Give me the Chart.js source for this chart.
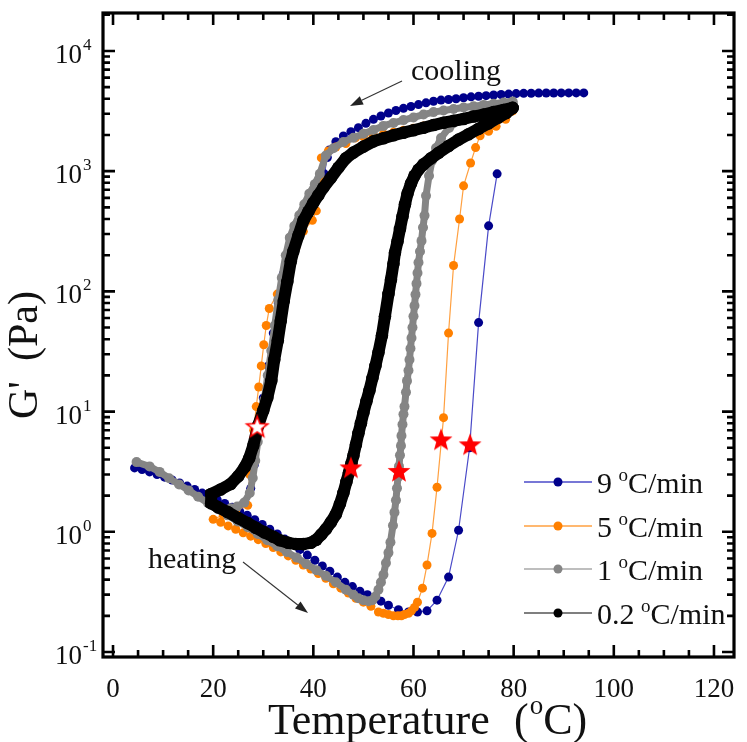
<!DOCTYPE html>
<html><head><meta charset="utf-8">
<script src="https://cdn.jsdelivr.net/npm/chart.js@4.4.0/dist/chart.umd.min.js"></script>
<style>html,body{margin:0;padding:0;background:#fff;} canvas{display:block;}</style>
</head><body>
<canvas id="c" width="747" height="742"></canvas>
<script>
// ---------------- data ----------------
const xTicks = [0, 20, 40, 60, 80, 100, 120];
const yTickExps = [-1, 0, 1, 2, 3, 4];
const legendRates = ['9', '5', '1', '0.2'];

// 9 °C/min
const navyCoolT = [94,92.5,91,89.5,88,86.5,85,83.5,82,80.5,79,77.5,76,74.5,73,71.5,70,68.5,67,65.5,64,62.5,61,59.5,58,56.5,55,53.5,52,50.5,49,47.5,46,44.5,43.2,42.8,42.2,41,39.5,38,36.5,35,34,33,32,31,30,29,28.2,27.5];
const navyCoolG = [4480,4480,4480,4480,4470,4470,4460,4450,4440,4420,4380,4340,4300,4250,4200,4150,4080,4000,3950,3900,3820,3700,3580,3450,3330,3200,3050,2880,2700,2500,2300,2130,1960,1760,1500,1300,950,720,580,450,330,210,140,80,45,24,13,7,3.6,2.3];
const navyHeatT = [4.3,5.8,7.3,8.8,10.3,11.8,13.3,14.8,16.3,17.8,19.3,20.8,22.3,23.8,25.3,26.8,28.3,29.8,31.3,32.8,34.3,35.8,37.3,38.8,40.3,41.8,43.3,44.8,46.3,47.8,49.3,50.8,52.3,53.5,55,57,59,60.8,62.7,64.7,67,69,71.2,73,75,76.7];
const navyHeatG = [3.4,3.3,3.15,3.0,2.85,2.7,2.55,2.4,2.25,2.1,1.97,1.85,1.72,1.6,1.48,1.37,1.26,1.15,1.05,0.96,0.87,0.79,0.71,0.64,0.58,0.52,0.47,0.42,0.38,0.35,0.32,0.30,0.28,0.265,0.245,0.225,0.215,0.215,0.22,0.27,0.42,1.03,5.0,55,351,950];

// 5 °C/min
const orangeCoolT = [79.8,78,76,74,72,70,68,66,64,62,60,58,56,54,52,50,48.4,46.5,44.5,43,41.6,41.4,40.9,40.6,39.8,38,36.5,35.2,34,32.8,31.2,30.6,30.1,29.6,29.1,28.6,28.1,27.7,27.3,26.9,24.5,22];
const orangeCoolG = [3170,3100,3020,2940,2850,2760,2670,2580,2480,2380,2280,2190,2110,2040,1990,1940,1890,1700,1590,1470,1290,880,600,468,390,316,230,170,125,95,72,52,36,24,16,11,7,4.8,3,1.66,1.5,1.38];
const orangeHeatT = [20,21.5,23,24.5,26,27.5,29,30.5,32,33.5,35,36.5,38,39.5,41,42.5,44,45.5,47,48.5,50,51.5,53,54,55,56,56.9,57.6,58.2,59,59.6,60.2,60.8,61.8,62.7,63.7,64.7,66,67,68,69.2,70,71.4,72.4,73.3,75,76.5,78.4,79.8];
const orangeHeatG = [1.27,1.2,1.12,1.05,0.98,0.92,0.86,0.8,0.74,0.68,0.63,0.58,0.53,0.49,0.45,0.41,0.37,0.34,0.31,0.28,0.26,0.24,0.215,0.21,0.205,0.2,0.2,0.2,0.205,0.21,0.22,0.235,0.26,0.34,0.53,0.97,2.35,8.9,45,164,400,755,1170,1570,1970,2150,2360,2700,3170];

// 1 °C/min
const grayCoolT = [79.8,78,76,74,72,70,68,66,64,62,60,58,56,54,52,50,48,46,44,42.5,41.3,40.3,39.2,38.2,37.2,36.2,35.3,34.5,33.7,33,32.3,31.6,30.9,30.2,29.5,28.9,28.4,27.9,27.3,26.2,24.8,23.5];
const grayCoolG = [3800,3720,3640,3560,3470,3380,3290,3200,3100,2960,2800,2660,2520,2380,2200,2050,1900,1750,1550,1350,950,780,650,530,430,350,280,200,130,85,52,32,20,12.5,8.6,5.6,3.9,2.8,2.1,1.75,1.62,1.57];
const grayHeatT = [4.7,7.3,9.3,11.2,13.2,15.1,17,19,21,22.9,24.9,26.9,28.9,30.8,32.8,34.7,36.7,38.6,40.6,42.5,44.5,46.5,48,49,50,51,51.8,52.4,53,53.5,54,54.5,55,55.4,55.9,56.2,56.5,56.7,56.9,57.1,57.3,57.5,57.6,57.8,58,58.2,58.5,58.7,59,59.2,59.4,59.6,59.8,60,60.2,60.4,60.6,60.8,61,61.3,61.6,61.9,62.2,62.5,63.1,63.7,64.5,65.5,67.1,69,72,75.9,79.8];
const grayHeatG = [3.8,3.5,3.15,2.79,2.48,2.21,1.96,1.73,1.54,1.37,1.22,1.09,0.96,0.85,0.76,0.68,0.61,0.54,0.48,0.43,0.38,0.33,0.30,0.28,0.27,0.265,0.27,0.29,0.33,0.38,0.44,0.55,0.67,0.82,1.13,1.45,1.83,2.3,2.84,3.5,4.33,5.2,6.3,7.8,9.5,11,14.5,18,22,27,33.5,41,50,62,76,94,116,142,174,215,263,340,427,624,915,1220,1560,1890,2290,2620,2990,3360,3700];

// 0.2 °C/min
const blackCoolT = [79.8,78,76,74,72,70,68,66,64,62,60,58,56,54,52,50,48,46.5,45,43.5,42,41,40,39,38,37,36,35.5,34.8,34.1,33.5,32.9,32.2,31.6,30.8,30,29,28,27.2,26.3,25,23.5,21.5,19.6];
const blackCoolG = [3360,3230,3100,2960,2850,2720,2620,2530,2420,2300,2190,2090,1990,1880,1770,1600,1430,1280,1070,880,730,630,545,460,387,290,215,178,120,83,57,39,27,18,13,10.2,7.7,5.2,4.1,3.45,2.9,2.5,2.25,2.06];
const blackHeatT = [19.6,21,22.9,25,26.9,28.5,30.2,32,33.3,35,36.5,38,39.5,40.6,41.6,42.5,43.5,44.5,45.3,46,46.6,47.1,47.6,48,48.5,49,49.5,50,50.6,51.2,51.8,52.4,53,53.7,54.3,55,55.5,56,56.3,56.8,57.3,57.8,58.3,58.8,59.5,60.2,61,62,63.5,65,67,69,71,73,75,77,78.5,79.8];
const blackHeatG = [1.73,1.6,1.46,1.3,1.18,1.08,0.99,0.91,0.85,0.81,0.79,0.79,0.81,0.86,0.95,1.05,1.2,1.4,1.7,2.1,2.6,3.1,3.7,4.3,5.3,6.6,8.0,9.8,12.2,15,19,24,31,43,62,95,125,170,210,260,330,420,530,650,790,915,1030,1140,1280,1420,1620,1830,2030,2250,2500,2800,3050,3360];

// gel-point stars
const starT = [47.5, 57.1, 65.5, 71.3];
const starG = [3.37, 3.15, 5.76, 5.24];
const hollowStarT = [28.8];
const hollowStarG = [7.4];

// ---------------- helpers ----------------
const pts = (T, G) => T.map((t, i) => ({x: t, y: G[i]}));
const SERIF = '"Liberation Serif", "Times New Roman", serif';

function makeStar(fill, stroke, r) {
  const c = document.createElement('canvas');
  const s = Math.ceil(r * 2 + 4);
  c.width = c.height = s;
  const g = c.getContext('2d');
  g.beginPath();
  for (let i = 0; i < 10; i++) {
    const a = -Math.PI / 2 + i * Math.PI / 5;
    const rr = i % 2 ? r * 0.42 : r;
    g.lineTo(s / 2 + rr * Math.cos(a), s / 2 + rr * Math.sin(a));
  }
  g.closePath();
  g.fillStyle = fill; g.fill();
  if (stroke) { g.strokeStyle = stroke; g.lineWidth = 1.6; g.stroke(); }
  return c;
}
const redStar = makeStar('#ff0000', null, 12);
const hollowStar = makeStar('#ffffff', '#ff0000', 11);

const NAVY = '#00008b', NAVY_L = '#4a4ac8';
const ORANGE = '#ff8000', ORANGE_L = '#ffa040';
const GRAY = '#858585';
const BLACK = '#000000';

function ds(T, G, o) {
  return Object.assign({data: pts(T, G), showLine: true, pointBorderWidth: 0, clip: false}, o);
}
const navyStyle = {borderColor: NAVY_L, borderWidth: 1.2, pointBackgroundColor: NAVY, pointRadius: 4.5, order: 4};
const orangeStyle = {borderColor: ORANGE_L, borderWidth: 1.2, pointBackgroundColor: ORANGE, pointRadius: 4.5, order: 3};
const grayStyle = {borderColor: GRAY, borderWidth: 7, pointBackgroundColor: GRAY, pointRadius: 5, order: 2};
const blackStyle = {borderColor: BLACK, borderWidth: 12, pointBackgroundColor: BLACK, pointRadius: 6.3, order: 1};

// ---------------- decorations plugin ----------------
function arrow(ctx, x1, y1, x2, y2) {
  ctx.save();
  ctx.strokeStyle = '#333'; ctx.fillStyle = '#222'; ctx.lineWidth = 1.1;
  const a = Math.atan2(y2 - y1, x2 - x1), L = 13, W = 4.5;
  const bx = x2 - L * Math.cos(a), by = y2 - L * Math.sin(a);
  ctx.beginPath(); ctx.moveTo(x1, y1); ctx.lineTo(bx, by); ctx.stroke();
  ctx.beginPath(); ctx.moveTo(x2, y2);
  ctx.lineTo(bx + W * Math.sin(a), by - W * Math.cos(a));
  ctx.lineTo(bx - W * Math.sin(a), by + W * Math.cos(a));
  ctx.closePath(); ctx.fill();
  ctx.restore();
}

const deco = {
  id: 'deco',
  afterDraw(chart) {
    const {ctx, chartArea: a, scales: {x, y}} = chart;
    ctx.save();
    ctx.strokeStyle = '#000';
    ctx.lineCap = 'butt';
    // ticks (inward, mirrored on top/right)
    ctx.lineWidth = 2.6;
    for (let v = 0; v <= 120; v += 5) {
      const px = x.getPixelForValue(v);
      const len = v % 20 === 0 ? 12 : 7;
      ctx.beginPath();
      ctx.moveTo(px, a.bottom); ctx.lineTo(px, a.bottom - len);
      ctx.moveTo(px, a.top); ctx.lineTo(px, a.top + len);
      ctx.stroke();
    }
    for (let e = -1; e <= 4; e++) {
      for (let m = 1; m <= 9; m++) {
        const v = m * Math.pow(10, e);
        if (v < y.min || v > y.max) continue;
        const py = y.getPixelForValue(v);
        const len = m === 1 ? 12 : 7;
        ctx.beginPath();
        ctx.moveTo(a.left, py); ctx.lineTo(a.left + len, py);
        ctx.moveTo(a.right, py); ctx.lineTo(a.right - len, py);
        ctx.stroke();
      }
    }
    // frame
    ctx.lineWidth = 3.2;
    ctx.strokeRect(a.left, a.top, a.right - a.left, a.bottom - a.top);

    ctx.fillStyle = '#111';
    // x tick labels
    ctx.font = '27px ' + SERIF;
    ctx.textAlign = 'center'; ctx.textBaseline = 'alphabetic';
    xTicks.forEach(v => ctx.fillText(String(v), x.getPixelForValue(v), 697));
    // y tick labels 10^n
    yTickExps.forEach(e => {
      const py = y.getPixelForValue(Math.pow(10, e));
      ctx.font = '27px ' + SERIF; ctx.textAlign = 'right';
      ctx.fillText('10', 82, py + 12);
      ctx.font = '17px ' + SERIF; ctx.textAlign = 'left';
      ctx.fillText(String(e), 83, py - 1);
    });

    // axis titles
    ctx.font = '44px ' + SERIF;
    ctx.textAlign = 'left';
    ctx.fillText('Temperature', 268, 734);
    let tx = 514;
    ctx.fillText('(', tx, 734); tx += ctx.measureText('(').width + 1;
    ctx.font = '27px ' + SERIF; ctx.fillText('o', tx, 714); tx += ctx.measureText('o').width;
    ctx.font = '44px ' + SERIF; ctx.fillText('C)', tx, 734);

    ctx.save();
    ctx.translate(37, 419); ctx.rotate(-Math.PI / 2);
    ctx.textAlign = 'left';
    ctx.font = '42px ' + SERIF;
    ctx.fillText("G'", 0, 0);
    ctx.fillText('(Pa)', 58, 0);
    ctx.restore();

    // annotations
    ctx.font = '30px ' + SERIF; ctx.textAlign = 'left';
    ctx.fillText('cooling', 411, 80);
    ctx.fillText('heating', 148, 568);
    arrow(ctx, 402, 81, 350, 106);
    arrow(ctx, 243, 562, 308, 613);

    // legend
    const rows = [482, 526, 569, 613];
    const lineCols = [NAVY_L, ORANGE_L, '#a8a8a8', '#555'];
    const dotCols = [NAVY, ORANGE, GRAY, BLACK];
    legendRates.forEach((r, i) => {
      const ry = rows[i];
      ctx.strokeStyle = lineCols[i]; ctx.lineWidth = 1.5;
      ctx.beginPath(); ctx.moveTo(524, ry); ctx.lineTo(592, ry); ctx.stroke();
      ctx.fillStyle = dotCols[i];
      ctx.beginPath(); ctx.arc(558, ry, 4.5, 0, Math.PI * 2); ctx.fill();
      ctx.fillStyle = '#111';
      let lx = 597;
      ctx.font = '30px ' + SERIF; ctx.fillText(r, lx, ry + 11);
      lx += ctx.measureText(r + ' ').width - 1;
      ctx.font = '19px ' + SERIF; ctx.fillText('o', lx, ry - 1);
      lx += ctx.measureText('o').width;
      ctx.font = '30px ' + SERIF; ctx.fillText('C/min', lx, ry + 11);
    });
    ctx.restore();
  }
};

new Chart(document.getElementById('c'), {
  type: 'scatter',
  data: {
    datasets: [
      ds(navyCoolT, navyCoolG, navyStyle),
      ds(navyHeatT, navyHeatG, navyStyle),
      ds(orangeCoolT.concat(orangeHeatT), orangeCoolG.concat(orangeHeatG), orangeStyle),
      ds(grayCoolT, grayCoolG, grayStyle),
      ds(grayHeatT, grayHeatG, grayStyle),
      ds(blackCoolT.concat(blackHeatT), blackCoolG.concat(blackHeatG), blackStyle),
      {data: pts(starT, starG), showLine: false, pointStyle: redStar, pointRadius: 12, order: 0},
      {data: pts(hollowStarT, hollowStarG), showLine: false, pointStyle: hollowStar, pointRadius: 12, order: 0}
    ]
  },
  options: {
    responsive: false,
    animation: false,
    events: [],
    layout: {padding: {left: 103, right: 2, top: 12, bottom: 85}},
    plugins: {legend: {display: false}, tooltip: {enabled: false}},
    scales: {
      x: {type: 'linear', min: -2, max: 124, display: false},
      y: {type: 'logarithmic', min: 0.0909, max: 20690, display: false}
    }
  },
  plugins: [deco]
});
</script>
</body></html>
